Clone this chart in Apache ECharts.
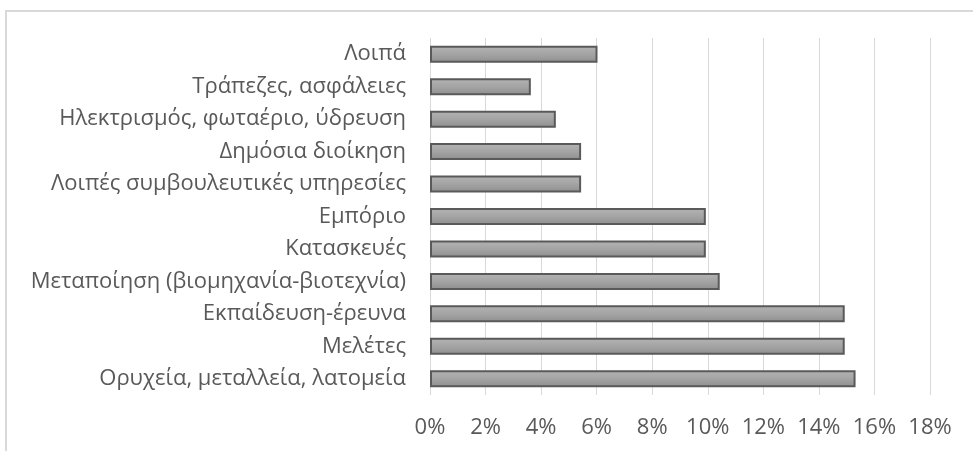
<!DOCTYPE html>
<html>
<head>
<meta charset="utf-8">
<script src="https://cdn.jsdelivr.net/npm/echarts@6/dist/echarts.min.js"></script>
<style>
  html, body { margin: 0; padding: 0; background: #fff; }
  #frame {
    position: absolute; left: 5px; top: 10px; width: 980px; height: 460px;
    border-top: 2px solid #d9d9d9; border-left: 2px solid #d9d9d9;
  }
  #chart { position: absolute; left: 0; top: 0; width: 973px; height: 451px; }
</style>
</head>
<body>
<div id="frame"></div>
<div id="chart"></div>
<script>
// κατηγορίες από πάνω προς τα κάτω
const categories = [
  'Λοιπά',
  'Τράπεζες, ασφάλειες',
  'Ηλεκτρισμός, φωταέριο, ύδρευση',
  'Δημόσια διοίκηση',
  'Λοιπές συμβουλευτικές υπηρεσίες',
  'Εμπόριο',
  'Κατασκευές',
  'Μεταποίηση (βιομηχανία-βιοτεχνία)',
  'Εκπαίδευση-έρευνα',
  'Μελέτες',
  'Ορυχεία, μεταλλεία, λατομεία'
]
const values = [6.03, 3.63, 4.53, 5.44, 5.44, 9.93, 9.93, 10.43, 14.93, 14.93, 15.32]

const textColor = '#595959'
const fontFamily = '"Open Sans", "Noto Sans", sans-serif'

const chart = echarts.init(document.getElementById('chart'), null, { renderer: 'canvas' })
chart.setOption({
  animation: false,
  grid: { left: 430, right: 43, top: 38, bottom: 56 },
  xAxis: {
    type: 'value',
    min: 0,
    max: 18,
    interval: 2,
    axisLine: { show: false },
    axisTick: { show: false },
    splitLine: { lineStyle: { color: '#d9d9d9', width: 1 } },
    axisLabel: {
      formatter: '{value}%',
      color: textColor,
      fontSize: 22,
      fontFamily,
      margin: 22
    }
  },
  yAxis: {
    type: 'category',
    inverse: true,
    data: categories,
    axisLine: { show: false },
    axisTick: { show: false },
    axisLabel: {
      color: textColor,
      fontSize: 22,
      fontFamily,
      margin: 24
    }
  },
  series: [
    {
      type: 'bar',
      data: values,
      barWidth: 17,
      itemStyle: {
        color: new echarts.graphic.LinearGradient(0, 0, 0, 1, [
          { offset: 0, color: '#b4b4b4' },
          { offset: 0.5, color: '#a4a4a4' },
          { offset: 1, color: '#8e8e8e' }
        ]),
        borderColor: '#5a5a5a',
        borderWidth: 2
      }
    }
  ]
})
</script>
</body>
</html>
